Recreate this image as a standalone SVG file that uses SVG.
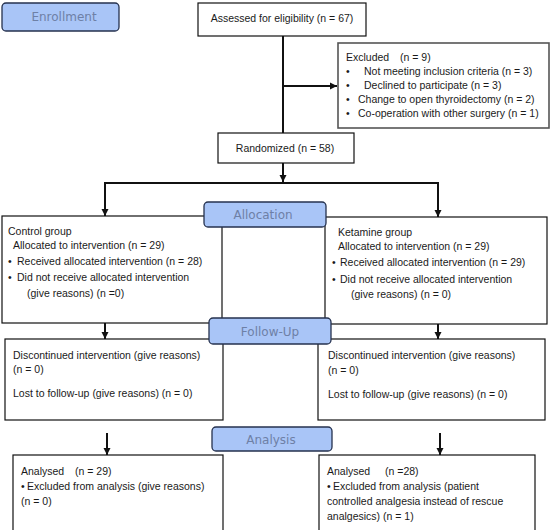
<svg xmlns="http://www.w3.org/2000/svg" width="551" height="530" viewBox="0 0 551 530">
<style>
.box{fill:#fff;stroke:#111;stroke-width:1.2}
.ex{fill:#fff;stroke:#555;stroke-width:1.6}
.lab{fill:#a9c5f7;stroke:#26324f;stroke-width:1.3}
.lt{font-family:"DejaVu Sans",Verdana,sans-serif;font-size:12px;fill:#6e80a6;text-anchor:middle}
.t{font-family:"Liberation Sans",Arial,sans-serif;font-size:10.5px;fill:#1a1a1a}
.c{text-anchor:middle}
.ln{stroke:#111;stroke-width:2;fill:none}
</style>
<defs>
<marker id="ah" markerUnits="userSpaceOnUse" markerWidth="8" markerHeight="8" refX="7" refY="4" orient="auto">
<path d="M0,0.5 L7,4 L0,7.5 Z" fill="#111"/>
</marker>
</defs>
<g id="connectors">
<line class="ln" x1="283" y1="36" x2="283" y2="133"/>
<line class="ln" x1="283" y1="86" x2="337" y2="86" marker-end="url(#ah)"/>
<line class="ln" x1="283" y1="163" x2="283" y2="182" marker-end="url(#ah)"/>
<line class="ln" x1="104" y1="183" x2="439" y2="183"/>
<line class="ln" x1="105" y1="183" x2="105" y2="216" marker-end="url(#ah)"/>
<line class="ln" x1="438" y1="183" x2="438" y2="217" marker-end="url(#ah)"/>
<line class="ln" x1="105" y1="323" x2="105" y2="339" marker-end="url(#ah)"/>
<line class="ln" x1="438" y1="324" x2="438" y2="339" marker-end="url(#ah)"/>
<line class="ln" x1="107" y1="433" x2="107" y2="455" marker-end="url(#ah)"/>
<line class="ln" x1="440" y1="433" x2="440" y2="455" marker-end="url(#ah)"/>
</g>
<g id="assessed">
<rect class="box" x="198" y="3" width="168" height="33"/>
<text class="t c" x="282" y="22">Assessed for eligibility (n = 67)</text>
</g>
<g id="excluded">
<rect class="ex" x="338" y="43" width="211" height="85"/>
<text class="t" x="346" y="61">Excluded<tspan x="400">(n = 9)</tspan></text>
<text class="t" x="346" y="75">•<tspan x="364">Not meeting inclusion criteria (n = 3)</tspan></text>
<text class="t" x="346" y="89">•<tspan x="364">Declined to participate (n = 3)</tspan></text>
<text class="t" x="346" y="103">•<tspan x="358">Change to open thyroidectomy (n = 2)</tspan></text>
<text class="t" x="346" y="117">•<tspan x="358">Co-operation with other surgery (n = 1)</tspan></text>
</g>
<g id="randomized">
<rect class="box" x="218" y="133" width="136" height="30"/>
<text class="t c" x="285" y="152">Randomized (n = 58)</text>
</g>
<g id="control">
<rect class="box" x="2" y="216" width="220" height="107"/>
<text class="t" x="8" y="235">Control group</text>
<text class="t" x="13" y="249">Allocated to intervention (n = 29)</text>
<text class="t" x="8" y="265">•<tspan x="17">Received allocated intervention (n = 28)</tspan></text>
<text class="t" x="8" y="281">•<tspan x="17">Did not receive allocated intervention</tspan></text>
<text class="t" x="27" y="297">(give reasons) (n =0)</text>
</g>
<g id="ketamine">
<rect class="box" x="325" y="217" width="222" height="107"/>
<text class="t" x="338" y="236">Ketamine group</text>
<text class="t" x="338" y="250">Allocated to intervention (n = 29)</text>
<text class="t" x="332" y="266">•<tspan x="340">Received allocated intervention (n = 29)</tspan></text>
<text class="t" x="332" y="283">•<tspan x="340">Did not receive allocated intervention</tspan></text>
<text class="t" x="351" y="298">(give reasons) (n = 0)</text>
</g>
<g id="followup-control">
<rect class="box" x="5" y="339" width="218" height="81"/>
<text class="t" x="13" y="359">Discontinued intervention (give reasons)</text>
<text class="t" x="13" y="373">(n = 0)</text>
<text class="t" x="13" y="397">Lost to follow-up (give reasons) (n = 0)</text>
</g>
<g id="followup-ketamine">
<rect class="box" x="318" y="339" width="227" height="81"/>
<text class="t" x="328" y="359">Discontinued intervention (give reasons)</text>
<text class="t" x="328" y="374">(n = 0)</text>
<text class="t" x="328" y="398">Lost to follow-up (give reasons) (n = 0)</text>
</g>
<g id="analysed-control">
<rect class="box" x="13" y="455" width="210" height="80"/>
<text class="t" x="21" y="475">Analysed<tspan x="75">(n = 29)</tspan></text>
<text class="t" x="21" y="490">•<tspan x="27">Excluded from analysis (give reasons)</tspan></text>
<text class="t" x="21" y="505">(n = 0)</text>
</g>
<g id="analysed-ketamine">
<rect class="box" x="319" y="455" width="216" height="80"/>
<text class="t" x="327" y="475">Analysed<tspan x="385">(n =28)</tspan></text>
<text class="t" x="327" y="490">•<tspan x="333">Excluded from analysis (patient</tspan></text>
<text class="t" x="327" y="505">controlled analgesia instead of rescue</text>
<text class="t" x="327" y="520">analgesics) (n = 1)</text>
</g>
<g id="label-enrollment">
<rect class="lab" x="2" y="3" width="117" height="28" rx="4"/>
<text class="lt" x="64" y="21">Enrollment</text>
</g>
<g id="label-allocation">
<rect class="lab" x="204" y="202" width="122" height="25" rx="4"/>
<text class="lt" x="263" y="219">Allocation</text>
</g>
<g id="label-followup">
<rect class="lab" x="209" y="318" width="122" height="26" rx="4"/>
<text class="lt" x="270" y="336">Follow-Up</text>
</g>
<g id="label-analysis">
<rect class="lab" x="212" y="427" width="120" height="24" rx="4"/>
<text class="lt" x="271" y="444">Analysis</text>
</g>
</svg>
